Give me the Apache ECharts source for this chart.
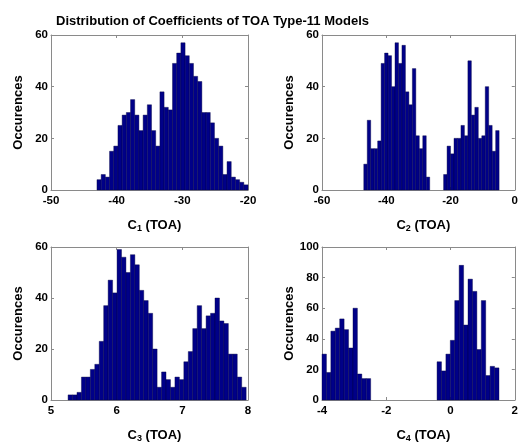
<!DOCTYPE html>
<html>
<head>
<meta charset="utf-8">
<script src="https://cdn.jsdelivr.net/npm/echarts@6/dist/echarts.min.js"></script>
<style>
  html, body { margin: 0; padding: 0; background: #fff; }
  #chart { width: 521px; height: 444px; }
</style>
</head>
<body>
<div id="chart"></div>
<script>
// Histogram counts per coefficient (equal-width bins starting at binStart)
const c1Counts = [4, 6, 5, 15, 17, 25, 29, 30, 35, 29, 23, 29, 33, 23, 17, 38, 32, 31,
                  49, 53, 57, 52, 49, 44, 42, 30, 30, 26, 20, 17, 6, 11, 5, 4, 3, 2];
const c1BinStart = -43.0;
const c1BinWidth = 0.639;

const c2Counts = [10, 27, 16, 16, 19, 49, 53, 52, 40, 57, 49, 56, 38, 33, 47, 21, 16, 21, 5,
                  0, 0, 0, 0,
                  6, 17, 14, 20, 20, 25, 21, 50, 29, 32, 20, 21, 40, 25, 15, 23];
const c2BinStart = -47.0;
const c2BinWidth = 1.08;

const c3Counts = [2, 2, 3, 9, 9, 12, 14, 23, 37, 47, 42, 59, 56, 50, 57, 53, 43, 39, 34, 20,
                  5, 11, 8, 5, 9, 8, 15, 19, 28, 37, 28, 33, 34, 40, 31, 30, 18, 18, 9, 5];
const c3BinStart = 5.26;
const c3BinWidth = 0.0678;

const c4Counts = [30, 18, 45, 47, 53, 46, 34, 60, 17, 14, 14,
                  0, 0, 0, 0, 0, 0, 0, 0, 0, 0, 0, 0, 0, 0, 0,
                  25, 19, 30, 39, 65, 88, 49, 79, 71, 33, 65, 16, 22, 21];
const c4BinStart = -4.0;
const c4BinWidth = 0.1377;

// Axis ranges: [min, max, tick interval]
const xRanges = [[-50, -20, 10], [-60, 0, 20], [5, 8, 1], [-4, 2, 2]];
const yRanges = [[0, 60, 20], [0, 60, 20], [0, 60, 20], [0, 100, 20]];
const xNames = ['1', '2', '3', '4'];
const yName = 'Occurences';
const titleText = 'Distribution of Coefficients of TOA Type-11 Models';

const FONT = '"Liberation Sans", Arial, Helvetica, sans-serif';
const BAR_FILL = '#000088';
const BOX = '#8a8a8a';

const grids = [
  { left: 51,  top: 35,  width: 197, height: 155 },
  { left: 322, top: 35,  width: 195, height: 155 },
  { left: 51,  top: 247, width: 197, height: 156 },
  { left: 322, top: 247, width: 195, height: 156 }
];

function binsOf(counts, start, width) {
  const out = [];
  counts.forEach((c, i) => {
    if (c > 0) out.push([start + i * width, start + (i + 1) * width, c]);
  });
  return out;
}

const panels = [
  binsOf(c1Counts, c1BinStart, c1BinWidth),
  binsOf(c2Counts, c2BinStart, c2BinWidth),
  binsOf(c3Counts, c3BinStart, c3BinWidth),
  binsOf(c4Counts, c4BinStart, c4BinWidth)
];

const labelStyle = { color: '#000', fontFamily: FONT, fontWeight: 'bold', fontSize: 11.5 };

const xAxes = [], yAxes = [], series = [];
grids.forEach((g, i) => {
  const [xmin, xmax, xint] = xRanges[i];
  const [ymin, ymax, yint] = yRanges[i];
  const common = {
    gridIndex: i, type: 'value',
    axisLine: { show: true, onZero: false, lineStyle: { color: BOX, width: 1 } },
    axisTick: { show: true, inside: true, length: 3, lineStyle: { color: BOX } },
    splitLine: { show: false }
  };
  // bottom axis with labels and name
  xAxes.push(Object.assign({}, common, {
    position: 'bottom', min: xmin, max: xmax, interval: xint,
    axisLabel: Object.assign({ margin: 5, showMinLabel: true, showMaxLabel: true }, labelStyle),
    name: '{m|C}{s|' + xNames[i] + '}{m| (TOA)}',
    nameLocation: 'middle', nameGap: 28,
    nameTextStyle: {
      padding: [0, 0, 0, 10],
      rich: {
        m: { fontFamily: FONT, fontWeight: 'bold', fontSize: 13, color: '#000' },
        s: { fontFamily: FONT, fontWeight: 'bold', fontSize: 9, color: '#000',
             verticalAlign: 'bottom', padding: [6, 0, 0, 0] }
      }
    }
  }));
  // top mirror axis (box + ticks only)
  xAxes.push(Object.assign({}, common, {
    position: 'top', min: xmin, max: xmax, interval: xint,
    axisLabel: { show: false }
  }));
  yAxes.push(Object.assign({}, common, {
    position: 'left', min: ymin, max: ymax, interval: yint,
    axisLabel: Object.assign({ margin: 3, showMinLabel: true, showMaxLabel: true }, labelStyle),
    name: yName, nameLocation: 'middle', nameGap: 26,
    nameTextStyle: { fontFamily: FONT, fontWeight: 'bold', fontSize: 13, color: '#000' }
  }));
  // right mirror axis (box + ticks only)
  yAxes.push(Object.assign({}, common, {
    position: 'right', min: ymin, max: ymax, interval: yint,
    axisLabel: { show: false }
  }));

  series.push({
    type: 'custom',
    xAxisIndex: i * 2,
    yAxisIndex: i * 2,
    data: panels[i],
    encode: { x: [0, 1], y: 2 },
    renderItem: function (params, api) {
      const p0 = api.coord([api.value(0), 0]);
      const p1 = api.coord([api.value(1), api.value(2)]);
      return {
        type: 'rect',
        shape: { x: p0[0], y: p1[1], width: p1[0] - p0[0], height: p0[1] - p1[1] },
        style: { fill: BAR_FILL, stroke: '#000040', lineWidth: 0.4 }
      };
    },
    silent: true,
    animation: false
  });
});

const chart = echarts.init(document.getElementById('chart'), null, { renderer: 'canvas' });
chart.setOption({
  backgroundColor: '#fff',
  animation: false,
  title: {
    text: titleText, left: 51, top: 10,
    textStyle: { fontFamily: FONT, fontWeight: 'bold', fontSize: 13, color: '#000' }
  },
  grid: grids.map(g => Object.assign({ containLabel: false }, g)),
  xAxis: xAxes,
  yAxis: yAxes,
  series: series
});
</script>
</body>
</html>
